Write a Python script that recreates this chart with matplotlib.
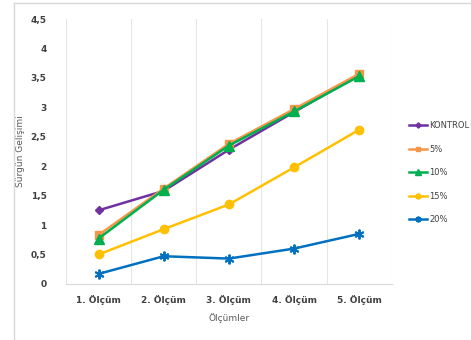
import matplotlib.pyplot as plt
from matplotlib.lines import Line2D

olcumler = ["1. Ölçüm", "2. Ölçüm", "3. Ölçüm", "4. Ölçüm", "5. Ölçüm"]
kontrol = [1.25, 1.58, 2.28, 2.92, 3.55]
yuzde5 = [0.83, 1.62, 2.38, 2.97, 3.57]
yuzde10 = [0.77, 1.60, 2.35, 2.93, 3.53]
yuzde15 = [0.50, 0.93, 1.35, 1.98, 2.62]
yuzde20 = [0.17, 0.47, 0.43, 0.60, 0.85]

seriler = [
    ("KONTROL", kontrol, "#7030A0", "D", 4.5),
    ("5%", yuzde5, "#F79646", "s", 6),
    ("10%", yuzde10, "#00B050", "^", 6.5),
    ("15%", yuzde15, "#FFC000", "o", 6),
    ("20%", yuzde20, "#0070C0", (6, 2, 0), 7),
]

fig = plt.figure(figsize=(4.71, 3.4), dpi=100)
ax = fig.add_axes([0.140, 0.165, 0.692, 0.779])

x = list(range(len(olcumler)))
for ad, veri, renk, isaret, boy in seriler:
    mew = 1.4 if isaret == (6, 2, 0) else 1
    ax.plot(x, veri, color=renk, marker=isaret, markersize=boy, linewidth=1.8,
            markeredgewidth=mew, label=ad)

ax.set_xlim(-0.5, 4.5)
ax.set_ylim(0, 4.5)
ax.set_yticks([0, 0.5, 1, 1.5, 2, 2.5, 3, 3.5, 4, 4.5])
ax.set_yticklabels(["0", "0,5", "1", "1,5", "2", "2,5", "3", "3,5", "4", "4,5"])
ax.set_xticks(x)
ax.set_xticklabels(olcumler)
ax.set_xticks([i - 0.5 for i in range(6)], minor=True)
ax.grid(True, which="minor", axis="x", color="#E6E6E6", linewidth=0.8)
ax.tick_params(axis="x", which="both", length=0, pad=8)
ax.tick_params(axis="y", length=0, pad=14)
for lab in ax.get_xticklabels() + ax.get_yticklabels():
    lab.set_fontsize(6.5)
    lab.set_fontweight("bold")
    lab.set_color("#404040")
for s in ["top", "right", "left"]:
    ax.spines[s].set_visible(False)
ax.spines["bottom"].set_color("#D9D9D9")

ax.set_xlabel("Ölçümler", fontsize=6.5, color="#595959", labelpad=6)
ax.set_ylabel("Sürgün Gelişimi", fontsize=6.5, color="#595959", labelpad=4)

leg = ax.legend(loc="center left", bbox_to_anchor=(1.03, 0.42), frameon=False,
                fontsize=6, labelspacing=1.75, handlelength=2.2, handletextpad=0.2,
                markerscale=0.6)
for t in leg.get_texts():
    t.set_color("#404040")

# cerceve
fig.add_artist(Line2D([14 / 471, 14 / 471], [0, 1 - 3 / 340], color="#D9D9D9", linewidth=1))
fig.add_artist(Line2D([14 / 471, 1], [1 - 3 / 340, 1 - 3 / 340], color="#D9D9D9", linewidth=1))

fig.savefig("out.png", dpi=100)
